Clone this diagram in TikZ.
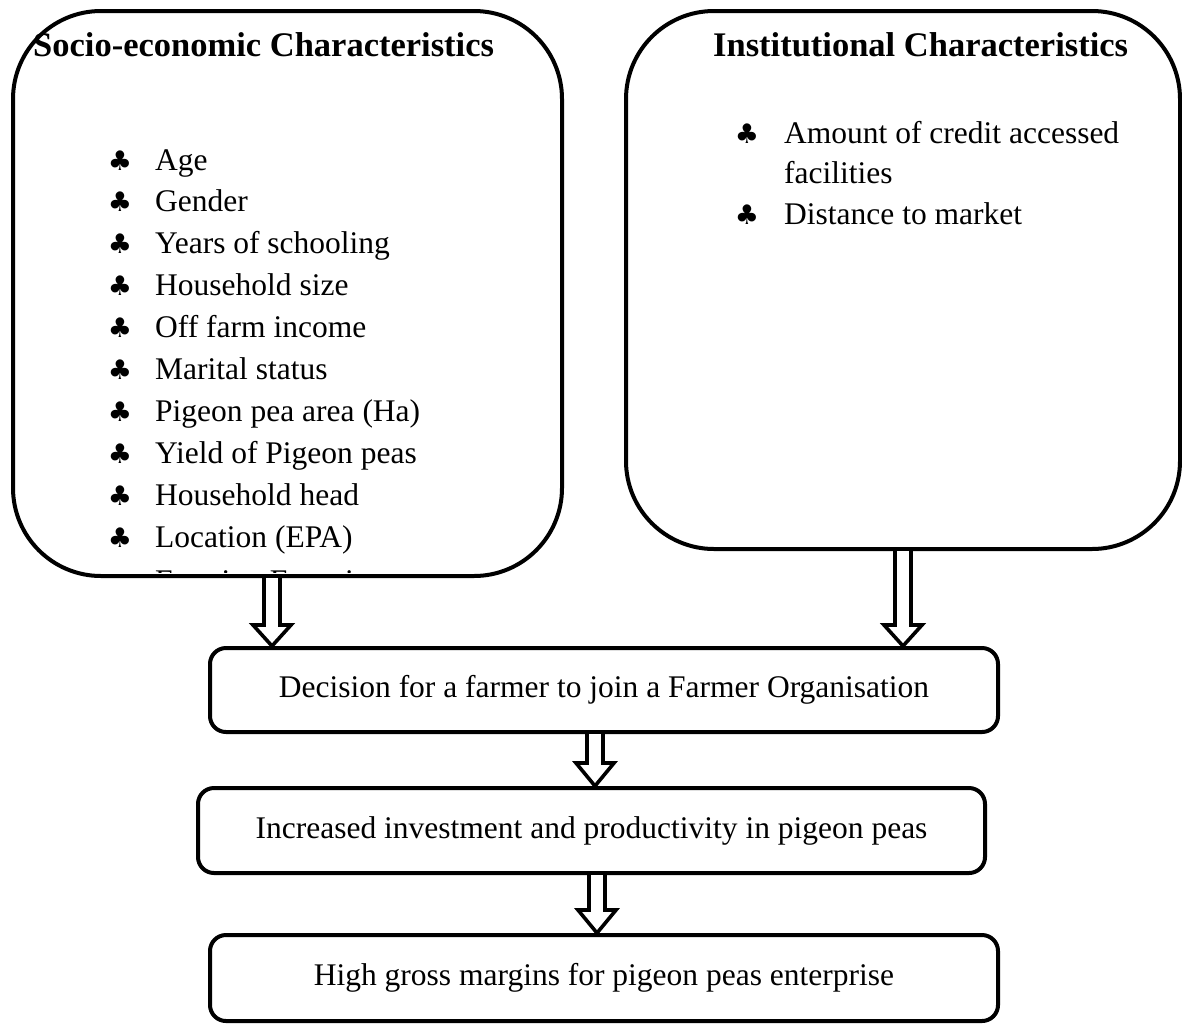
\documentclass[tikz,border=0pt]{standalone}
\usepackage{fontspec}
\setmainfont{Liberation Serif}
\newfontfamily\clubfont{DejaVu Sans}
\usetikzlibrary{calc}
\newcommand\blockarrow[3]{% #1 top coord, #2 tip coord, #3 head length
  \draw[arrowline] ($(#1)+(-8,0)$) -- ($(#2)+(-8,-#3)$) -- ($(#2)+(-19,-#3)$) -- (#2)
    -- ($(#2)+(19,-#3)$) -- ($(#2)+(8,-#3)$) -- ($(#1)+(8,0)$);}
\begin{document}
\begin{tikzpicture}[x=1pt,y=-1pt,
  bigbox/.style={draw, line width=4pt, rounded corners=88pt, inner sep=0pt},
  flowbox/.style={draw, line width=4pt, rounded corners=16pt, inner sep=0pt,
    font=\fontsize{31.5}{40}\selectfont},
  itemtext/.style={anchor=base west, inner sep=0pt, font=\fontsize{31.5}{42}\selectfont},
  clubmark/.style={anchor=base, inner sep=0pt, font=\clubfont\fontsize{27}{27}\selectfont},
  titletext/.style={anchor=base west, inner sep=0pt, font=\bfseries\fontsize{34.5}{40}\selectfont},
  arrowline/.style={draw=black, fill=white, line width=3.6pt, miter limit=10},
]
\useasboundingbox (0,0) rectangle (1182,1023);

% main boxes
\node[bigbox, minimum width=549pt, minimum height=565pt] (socio) at (287.5,293.5) {};
\node[bigbox, minimum width=554pt, minimum height=538pt] (inst) at (903,280) {};
\node[flowbox, minimum width=788pt, minimum height=84pt] (decision) at (604,690)
  {Decision for a farmer to join a Farmer Organisation};
\node[flowbox, minimum width=787pt, minimum height=85pt] (invest) at (591.5,830.5)
  {Increased investment and productivity in pigeon peas};
\node[flowbox, minimum width=788pt, minimum height=86pt] (margin) at (604,978)
  {High gross margins for pigeon peas enterprise};

% left box content
\node[titletext] (st) at (33,56) {Socio-economic Characteristics};
\foreach \t [count=\i from 0] in {Age,Gender,Years of schooling,Household size,Off farm income,Marital status,Pigeon pea area (Ha),Yield of Pigeon peas,Household head,Location (EPA)}{
  \node[clubmark] (sc\i) at (120,170+41.9*\i) {♣};
  \node[itemtext] (si\i) at (155,170+41.9*\i) {\t};
}
\begin{scope}
  \clip (100,520) rectangle (560,572);
  \node[itemtext] (si10) at (155,591) {Farming Experience};
\end{scope}

% right box content
\node[titletext] (it) at (713,56) {Institutional Characteristics};
\node[clubmark] (ic0) at (747,143) {♣};
\node[itemtext] (ii0) at (784,143) {Amount of credit accessed};
\node[itemtext] (ii0b) at (784,183) {facilities};
\node[clubmark] (ic1) at (747,224) {♣};
\node[itemtext] (ii1) at (784,224) {Distance to market};

% arrows
\coordinate (x1) at (272,0);
\coordinate (x2) at (903,0);
\coordinate (x3) at (595,0);
\coordinate (x4) at (597,0);
\coordinate (a1top) at (x1 |- socio.south);
\coordinate (a1tip) at (x1 |- decision.north);
\coordinate (a2top) at (x2 |- inst.south);
\coordinate (a2tip) at (x2 |- decision.north);
\coordinate (a3top) at (x3 |- decision.south);
\coordinate (a3tip) at (x3 |- invest.north);
\coordinate (a4top) at (x4 |- invest.south);
\coordinate (a4tip) at (x4 |- margin.north);
\blockarrow{a1top}{a1tip}{21}
\blockarrow{a2top}{a2tip}{21}
\blockarrow{a3top}{a3tip}{23}
\blockarrow{a4top}{a4tip}{23}
\end{tikzpicture}
\end{document}
